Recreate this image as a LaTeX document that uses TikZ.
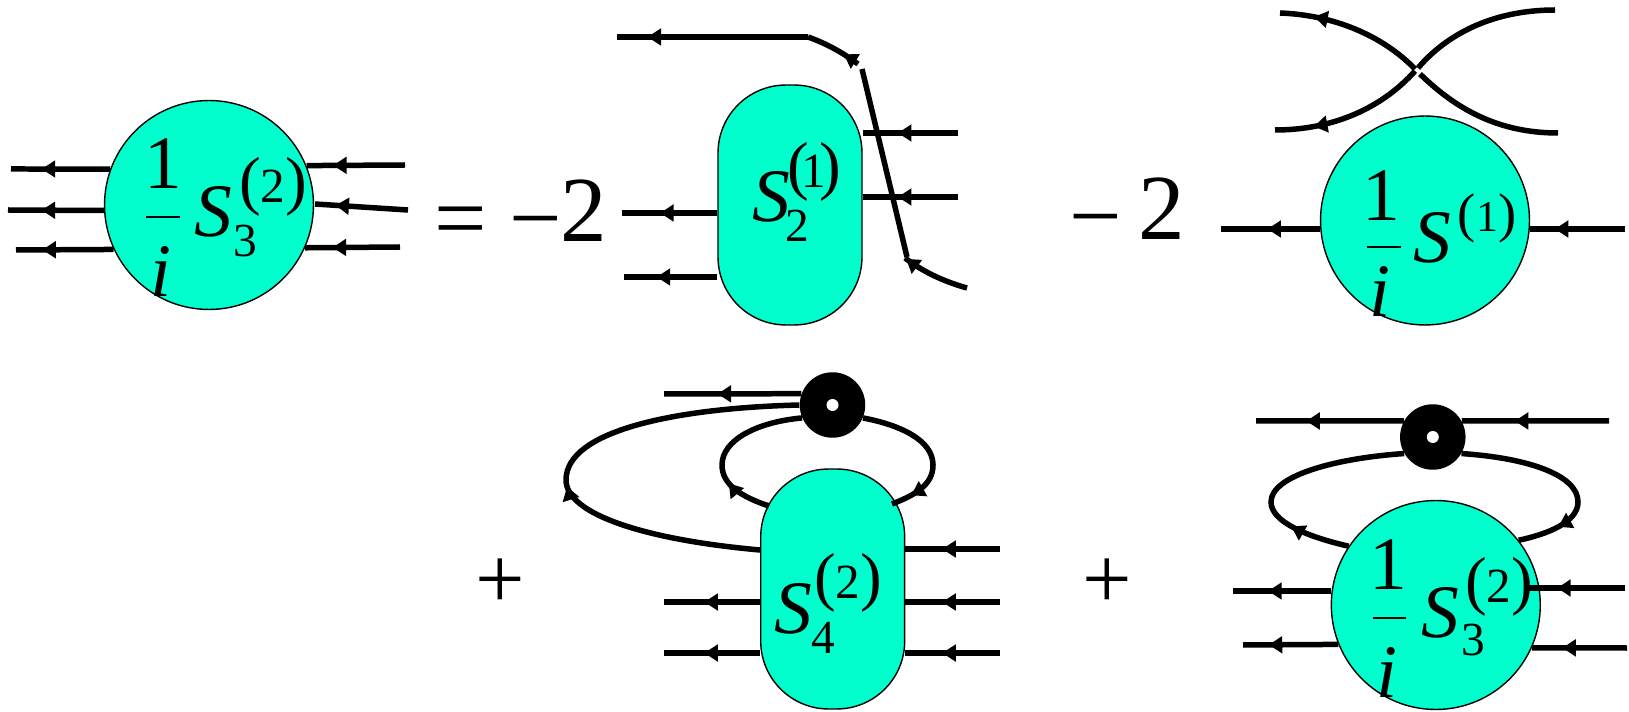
\documentclass[tikz,border=0pt]{standalone}
\usepackage{fontspec}
\setmainfont{Liberation Serif}
\usetikzlibrary{arrows.meta,decorations.markings}
\definecolor{blobcol}{RGB}{0,255,204}
\newcommand{\pow}[4]{{\fontsize{#1}{#1}\selectfont(}\kern#4{\fontsize{#2}{#2}\selectfont #3}\kern#4{\fontsize{#1}{#1}\selectfont)}}
\tikzset{
  leg/.style={line width=0.11cm},
  arrowat/.style={postaction={decorate},decoration={markings,
    mark=at position #1 with {\arrow{Triangle[length=0.27cm,width=0.33cm]}}}},
  blobround/.style={circle,draw,line width=0.8pt,fill=blobcol,minimum size=4.18cm,inner sep=0},
  blobpill/.style={rectangle,draw,line width=0.8pt,fill=blobcol,minimum width=2.88cm,minimum height=4.8cm,
    rounded corners=1.36cm,inner sep=0},
  vertex/.style={circle,fill=black,minimum size=1.31cm,inner sep=0},
  hole/.style={circle,fill=white,minimum size=0.24cm,inner sep=0},
  txtbig/.style={anchor=base,inner sep=0,font=\fontsize{53}{53}\selectfont},
  txtmid/.style={anchor=base,inner sep=0,font=\fontsize{43}{43}\selectfont},
  txtsub/.style={anchor=base,inner sep=0,font=\fontsize{27}{27}\selectfont},
  txtplus/.style={anchor=base,inner sep=0,font=\fontsize{50}{50}\selectfont},
  fracbar/.style={line width=0.04cm}
}
\begin{document}
\begin{tikzpicture}[x=0.02cm,y=-0.02cm]
\useasboundingbox (0,0) rectangle (1629,712);
% blobs
\node[blobround] (blobA) at (209,205) {};
\node[blobpill] (blobB) at (790,205) {};
\node[blobround] (blobC) at (1425,220.5) {};
\node[blobpill] (blobD) at (832.7,589) {};
\node[blobround] (blobE) at (1435.8,605) {};
\node[vertex] (dotD) at (832.5,405) {};
\node[hole] (holeD) at (dotD) {};
\node[vertex] (dotE) at (1432.8,437) {};
\node[hole] (holeE) at (dotE) {};
% free ends
\foreach \nm/\x/\y in {aL1/11/169,aL2/8/210,aL3/16/250,aR1/405/165,aR2/408/210,aR3/400/247,aS2/315/204,
  bL1/622/213,bL2/624/277,bR1/958/133,bR2/958/197,bA/617/37,bB/808/37,bC/858/64,bD/862/69,bE/907/257,bF/905/258,bG/967/288,
  cTL/1280/13,cBL/1275/130,cTR/1555/10,cBR/1558/133,cX/1415/69,cXb/1415/71,cXr/1418/68,cXs/1420/74,cL/1221/229,cR/1625/229,
  dT/664/394,dL1/664/602,dL2/664/653,dR1/1000/549,dR2/1000/602,dR3/1000/653,
  eTL/1256/421,eTR/1609/421,eL1/1233/591,eL2/1243/645,eR1/1625/588,eR1a/1528/588,eR2/1627/648}
  \coordinate (\nm) at (\x,\y);
% first term
\draw[leg,arrowat=.69] (blobA.160) -- (aL1);
\draw[leg,arrowat=.65] (blobA.183) -- (aL2);
\draw[leg,arrowat=.73] (blobA.205) -- (aL3);
\draw[leg,arrowat=.73] (aR1) -- (blobA.22);
\draw[leg,arrowat=.78] (aR2) -- (aS2);
\draw[leg,arrowat=.71] (aR3) -- (blobA.-24);
% second term
\draw[leg,arrowat=.60] (bL1 -| blobB.west) -- (bL1);
\draw[leg,arrowat=.65] (bL2 -| blobB.west) -- (bL2);
\draw[leg,arrowat=.63] (bR1) -- (bR1 -| blobB.east);
\draw[leg,arrowat=.63] (bR2) -- (bR2 -| blobB.east);
\draw[leg,arrowat=.84] (bB) -- (bA);
\draw[leg,arrowat=.30] (bC) .. controls (842,52) and (825,43) .. (bB);
\draw[leg] (bE) -- (bD);
\draw[leg,arrowat=.98] (bG) .. controls (942,281) and (922,271) .. (bF);
% third term
\draw[leg,arrowat=.77] (cX) .. controls (1382,35) and (1333,15) .. (cTL);
\draw[leg,arrowat=.75] (cXb) .. controls (1382,108) and (1333,130) .. (cBL);
\draw[leg] (cTR) .. controls (1492,10) and (1446,35) .. (cXr);
\draw[leg] (cBR) .. controls (1497,133) and (1455,108) .. (cXs);
\draw[leg,arrowat=.53] (blobC.west |- cL) -- (cL);
\draw[leg,arrowat=.74] (cR) -- (blobC.east |- cR);
% fourth term
\draw[leg,arrowat=.61] (dotD.160) -- (dT);
\draw[leg,arrowat=.44] (760,550) coordinate (dP) .. controls (648,540) and (566,515) .. (566,480)
  .. controls (566,430) and (678,408) .. (dotD.180);
\draw[leg,arrowat=.28] (769,506) coordinate (dQ) .. controls (742,497) and (722,485) .. (722,465)
  .. controls (722,440) and (757,422) .. (dotD.203);
\draw[leg,arrowat=.86] (dotD.-23) .. controls (900,425) and (933,440) .. (933,465)
  .. controls (933,485) and (915,495) .. (892,504) coordinate (dU);
\draw[leg,arrowat=.58] (dL1 -| blobD.west) -- (dL1);
\draw[leg,arrowat=.58] (dL2 -| blobD.west) -- (dL2);
\draw[leg,arrowat=.61] (dR1) -- (dR1 -| blobD.east);
\draw[leg,arrowat=.61] (dR2) -- (dR2 -| blobD.east);
\draw[leg,arrowat=.61] (dR3) -- (dR3 -| blobD.east);
% fifth term
\draw[leg,arrowat=.64] (eTR) -- (dotE.29);
\draw[leg,arrowat=.66] (dotE.151) -- (eTL);
\draw[leg,arrowat=.25] (blobE.146) .. controls (1308,537) and (1271,522) .. (1271,502)
  .. controls (1271,475) and (1338,458) .. (dotE.210);
\draw[leg,arrowat=.80] (dotE.-30) .. controls (1528,458) and (1578,475) .. (1578,502)
  .. controls (1578,522) and (1548,534) .. (blobE.38);
\draw[leg,arrowat=.64] (blobE.west |- eL1) -- (eL1);
\draw[leg,arrowat=.73] (blobE.202) -- (eL2);
\draw[leg,arrowat=.70] (eR1) -- (eR1a);
\draw[leg,arrowat=.68] (eR2) -- (blobE.-24);
% labels
\node[txtmid] (oneA) at (163,189) {1};
\draw[fracbar] (146,217) -- (180,217);
\node[txtmid] (iA) at (161,297) {\textit{i}};
\node[txtmid] (sA) at (213,237) {\textit{S}};
\node[txtsub] (upA) at (273,203) {\pow{37}{28}{2}{0pt}};
\node[txtsub] (dnA) at (245,257) {3};
\node[txtbig] (eqA) at (461,250) {=};
\node[txtbig] (mA) at (536,250) {−};
\node[txtbig] (twoA) at (584,242) {2};
\node[txtmid] (sB) at (771,222) {\textit{S}};
\node[txtsub] (upB) at (814,188) {\pow{37}{28}{1}{-4pt}};
\node[txtsub] (dnB) at (797,242) {2};
\node[txtbig] (mC) at (1096,248) {−};
\node[txtbig] (twoC) at (1162,240) {2};
\node[txtmid] (oneC) at (1381,221) {1};
\draw[fracbar] (1367,247) -- (1401,247);
\node[txtmid] (iC) at (1380,317) {\textit{i}};
\node[txtmid] (sC) at (1432,263) {\textit{S}};
\node[txtsub] (upC) at (1487,232) {\pow{31}{25}{1}{0pt}};
\node[txtplus] (plusD) at (500,608) {+};
\node[txtmid] (sD) at (793,633) {\textit{S}};
\node[txtsub] (upD) at (848,598) {\pow{37}{28}{2}{0pt}};
\node[txtsub] (dnD) at (823,653) {4};
\node[txtplus] (plusE) at (1107,608) {+};
\node[txtmid] (oneE) at (1388,589) {1};
\draw[fracbar] (1373,618) -- (1406,618);
\node[txtmid] (iE) at (1387,697) {\textit{i}};
\node[txtmid] (sE) at (1440,637) {\textit{S}};
\node[txtsub] (upE) at (1499,602) {\pow{37}{28}{2}{0pt}};
\node[txtsub] (dnE) at (1473,655) {3};
\end{tikzpicture}
\end{document}
